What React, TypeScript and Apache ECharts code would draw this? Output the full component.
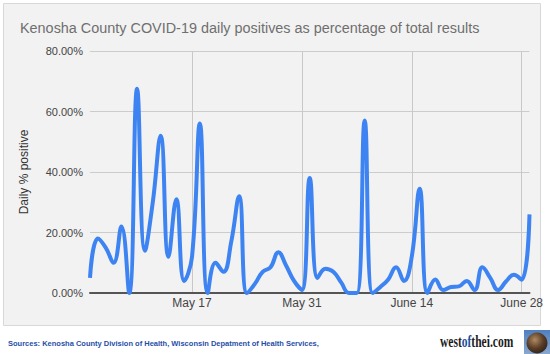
import React, { useEffect, useRef } from "react";
import * as echarts from "echarts";

const dates: string[] = [
  "May 4", "May 5", "May 6", "May 7", "May 8", "May 9", "May 10", "May 11", "May 12", "May 13",
  "May 14", "May 15", "May 16", "May 17", "May 18", "May 19", "May 20", "May 21", "May 22", "May 23",
  "May 24", "May 25", "May 26", "May 27", "May 28", "May 29", "May 30", "May 31", "June 1", "June 2",
  "June 3", "June 4", "June 5", "June 6", "June 7", "June 8", "June 9", "June 10", "June 11", "June 12",
  "June 13", "June 14", "June 15", "June 16", "June 17", "June 18", "June 19", "June 20", "June 21", "June 22",
  "June 23", "June 24", "June 25", "June 26", "June 27", "June 28", "June 29",
];

const dailyPositivePct: number[] = [
  5, 18, 15, 10, 22, 0, 67.5, 14, 30, 52,
  12, 31, 4, 12, 56, 0, 10, 7, 17, 32,
  0, 3, 7, 8.5, 13.5, 9, 4, 1, 38, 5,
  8, 7, 3.5, 0, 0, 57, 0, 2, 4.5, 8.5,
  4, 12, 34.5, 0, 4.5, 1, 2, 2.2, 4, 1,
  8.5, 5, 1, 3.8, 6, 4.4, 26,
];

const shownDates: string[] = ["May 17", "May 31", "June 14", "June 28"];
const yTicks: number[] = [0, 20, 40, 60, 80];

const titleText = "Kenosha County COVID-19 daily positives as percentage of total results";
const sourceText = "Sources: Kenosha County Division of Health, Wisconsin Depatment of Health Services,";

export default function App() {
  const ref = useRef<HTMLDivElement>(null);
  useEffect(() => {
    if (!ref.current) return;
    const chart = echarts.init(ref.current, null, { renderer: "svg" });
    const showIdx = (i: number) => shownDates.includes(dates[i]);
    chart.setOption({
      animation: false,
      backgroundColor: "#ffffff",
      graphic: [
        {
          type: "rect",
          z: -10,
          silent: true,
          shape: { x: 3.5, y: 3.5, width: 537, height: 322 },
          style: { fill: "#f2f2f2", stroke: "#d8d8d8", lineWidth: 1 },
        },
        {
          type: "text",
          x: 20,
          y: 27,
          scaleX: 0.93,
          style: {
            text: titleText,
            fontFamily: "Liberation Sans, Arial, sans-serif",
            fontSize: 15.5,
            fill: "#6f6f6f",
            verticalAlign: "middle",
          },
        },
        {
          type: "text",
          x: 8,
          y: 343,
          style: {
            text: sourceText,
            fontFamily: "Liberation Sans, Arial, sans-serif",
            fontSize: 7.5,
            fontWeight: "bold",
            fill: "#1f4fa8",
            verticalAlign: "middle",
          },
        },
        {
          type: "text",
          x: 440,
          y: 342,
          scaleX: 0.72,
          style: {
            text: "west{b|of}thei.com",
            fontFamily: "Liberation Serif, serif",
            fontSize: 16,
            fontWeight: "bold",
            fill: "#1c1c1c",
            verticalAlign: "middle",
            rich: {
              b: { fontFamily: "Liberation Serif, serif", fontSize: 16, fontWeight: "bold", fill: "#1d4f9e" },
            },
          },
        },
        {
          type: "rect",
          shape: { x: 524, y: 330, width: 26, height: 24 },
          style: {
            fill: new echarts.graphic.LinearGradient(0, 0, 0, 1, [
              { offset: 0, color: "#4f7fc0" },
              { offset: 1, color: "#8aa8cf" },
            ]),
          },
        },
        {
          type: "circle",
          shape: { cx: 537, cy: 343, r: 10.5 },
          style: {
            fill: new echarts.graphic.RadialGradient(0.4, 0.35, 0.8, [
              { offset: 0, color: "#b08a60" },
              { offset: 0.5, color: "#5a3e28" },
              { offset: 1, color: "#231a14" },
            ]),
          },
        },
      ],
      grid: { left: 90, right: 20.5, top: 51, bottom: 61, containLabel: false },
      xAxis: {
        type: "category",
        data: dates,
        boundaryGap: false,
        axisLine: { show: true, lineStyle: { color: "#555555", width: 2 } },
        axisTick: { show: false },
        axisLabel: {
          interval: (i: number) => showIdx(i),
          color: "#444444",
          fontFamily: "Liberation Sans, Arial, sans-serif",
          fontSize: 12,
          margin: 4,
        },
        splitLine: {
          show: true,
          interval: (i: number) => showIdx(i),
          lineStyle: { color: "#c8c8c8", width: 1 },
        },
      },
      yAxis: {
        type: "value",
        min: yTicks[0],
        max: yTicks[yTicks.length - 1],
        interval: 20,
        name: "Daily % positive",
        nameLocation: "middle",
        nameGap: 60,
        nameTextStyle: { color: "#333333", fontFamily: "Liberation Sans, Arial, sans-serif", fontSize: 12 },
        axisLine: { show: false },
        axisTick: { show: false },
        axisLabel: {
          formatter: (v: number) => v.toFixed(2) + "%",
          color: "#444444",
          fontFamily: "Liberation Sans, Arial, sans-serif",
          fontSize: 11,
          margin: 7,
        },
        splitLine: { lineStyle: { color: "#cccccc", width: 1 } },
      },
      series: [
        {
          type: "line",
          data: dailyPositivePct,
          smooth: 0.45,
          showSymbol: false,
          clip: true,
          lineStyle: { color: "#3d84f2", width: 4 },
        },
      ],
    });
    return () => chart.dispose();
  }, []);
  return <div ref={ref} style={{ position: "fixed", left: 0, top: 0, width: 550, height: 354 }} />;
}
